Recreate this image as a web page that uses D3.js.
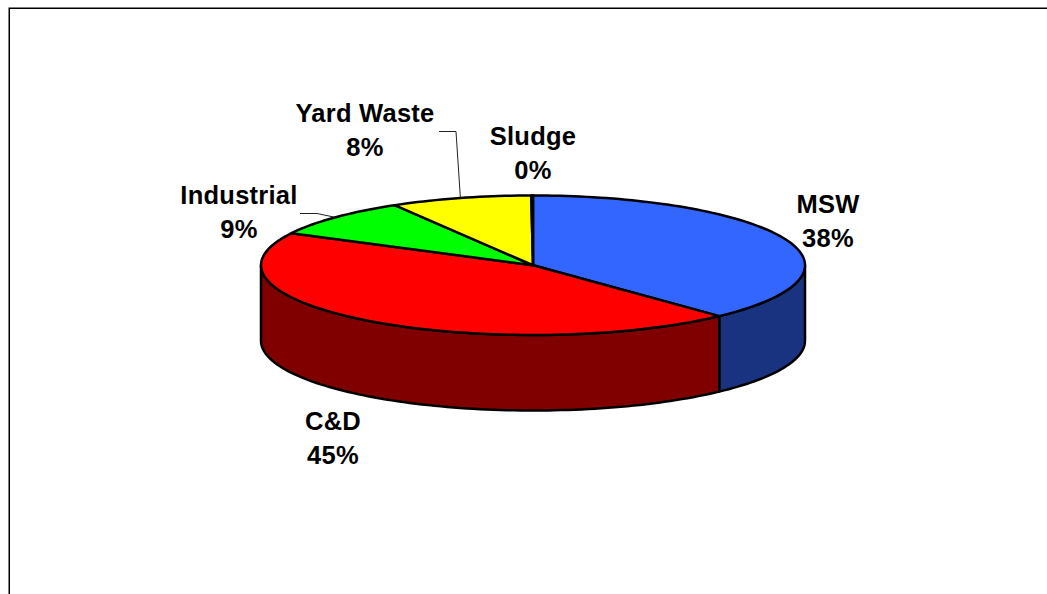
<!DOCTYPE html>
<html><head><meta charset="utf-8">
<script src="https://cdn.jsdelivr.net/npm/d3@7"></script>
<style>html,body{margin:0;padding:0;background:#fff}svg{display:block}
text{font-family:"Liberation Sans",Arial,sans-serif;font-weight:bold;font-size:25.5px;letter-spacing:0.25px;fill:#000;text-anchor:middle}</style>
</head><body><div id="c"></div>
<script>
const categories=["MSW","C&D","Industrial","Yard Waste","Sludge"];
const values=[38.0,44.6,8.9,8.4,0.1];
const percentLabels=["38%","45%","9%","8%","0%"];
const topColors=["#3366ff","#ff0000","#00ff00","#ffff00","#ffffff"];
const sideColors=["#1a3380","#800000","#008000","#808000","#808080"];
const labelX=[828,333,239,365,533];
const labelY=[213,430,204,122,145];
const W=1047,H=594;
const svg=d3.select("#c").append("svg").attr("width",W).attr("height",H);
svg.append("path").attr("d",`M9.25 594V8.25H1047`).attr("fill","none").attr("stroke","#000").attr("stroke-width",1.5);

const px=d3.scaleLinear().domain([-1,1]).range([261,805]);
const py=d3.scaleLinear().domain([-1,1]).range([335,195.5]);
const depth=75.5;
const pie=d3.pie().sort(null).value(d=>d)(values);
const steps=a=>d3.range(0,1.0001,1/Math.max(2,Math.ceil(a*40)));
const rim=(a0,a1,dy=0)=>steps(a1-a0).map(t=>{const a=a0+(a1-a0)*t;return [px(Math.sin(a)),py(Math.cos(a))+dy];});
const line=d3.line();
// side walls
pie.forEach((s,i)=>{
  const a0=Math.max(s.startAngle,Math.PI/2),a1=Math.min(s.endAngle,Math.PI*1.5);
  if(a1<=a0)return;
  const pts=rim(a0,a1).concat(rim(a0,a1,depth).reverse());
  svg.append("path").attr("d",line(pts)+"Z").attr("fill",sideColors[i]).attr("stroke","#000").attr("stroke-width",2.5).attr("stroke-linejoin","round");
});
// top slices
pie.forEach((s,i)=>{
  const pts=[[px(0),py(0)]].concat(rim(s.startAngle,s.endAngle));
  svg.append("path").attr("d",line(pts)+"Z").attr("fill",topColors[i]).attr("stroke","#000").attr("stroke-width",2.5).attr("stroke-linejoin","round");
});
// leader lines
const yardMid=pie[3].startAngle+(pie[3].endAngle-pie[3].startAngle)/2;
const indMid=pie[2].startAngle+(pie[2].endAngle-pie[2].startAngle)/2;
svg.append("path").attr("d",line([[439,131.5],[456,131.5],[px(Math.sin(yardMid)),py(Math.cos(yardMid))]])).attr("fill","none").attr("stroke","#222").attr("stroke-width",1);
svg.append("path").attr("d",line([[300,213.5],[317,213.5],[px(Math.sin(indMid)),py(Math.cos(indMid))]])).attr("fill","none").attr("stroke","#222").attr("stroke-width",1);
// labels
categories.forEach((c,i)=>{
  svg.append("text").attr("x",labelX[i]).attr("y",labelY[i]).text(c);
  svg.append("text").attr("x",labelX[i]).attr("y",labelY[i]+34).text(percentLabels[i]);
});
</script></body></html>
